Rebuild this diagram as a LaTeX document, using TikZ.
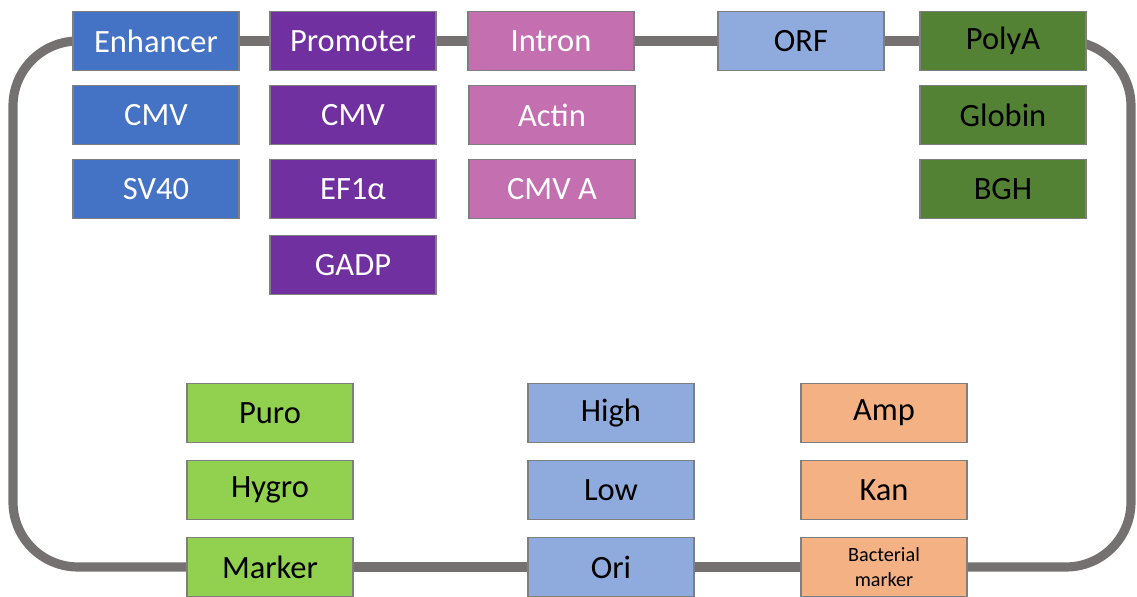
\documentclass[tikz,border=0pt]{standalone}
\usepackage{fontspec}
\setmainfont{Carlito}
\usepackage{xcolor}
\usetikzlibrary{positioning,calc,backgrounds}

\definecolor{enhblue}{HTML}{4472C4}
\definecolor{prompurple}{HTML}{7030A0}
\definecolor{intpink}{HTML}{C46FB0}
\definecolor{orfblue}{HTML}{8FAADC}
\definecolor{polygreen}{HTML}{548235}
\definecolor{markgreen}{HTML}{92D050}
\definecolor{bactorange}{HTML}{F4B183}
\definecolor{loopgray}{HTML}{767171}
\definecolor{edgegray}{HTML}{7F7F7F}

\begin{document}
\begin{tikzpicture}[
        x=0.02cm, y=-0.02cm,
        every node/.style={font=\fontsize{18.5}{20}\selectfont},
        part/.style={draw=edgegray, line width=1.1pt, minimum width=3.32cm,
                     minimum height=1.18cm, inner sep=0pt, align=center},
        enh/.style={part, fill=enhblue, text=white},
        prom/.style={part, fill=prompurple, text=white},
        intr/.style={part, fill=intpink, text=white},
        orfbox/.style={part, fill=orfblue, text=black},
        polyabox/.style={part, fill=polygreen, text=black},
        selbox/.style={part, fill=markgreen, text=black},
        bactbox/.style={part, fill=bactorange, text=black},
        backbone/.style={draw=loopgray, line width=5.2pt}
      ]

        \useasboundingbox (0,0) rectangle (1137,597);

        % Loop corners ---------------------------------------------
        \coordinate (nw) at (13,41);
        \coordinate (ne) at (1131,41);
        \coordinate (se) at (1131,567);
        \coordinate (sw) at (13,567);

        % Top row: expression cassette -----------------------------
        \node[enh]      (enhancer) at (156,41)  {Enhancer};
        \node[prom]     (promoter) at (353,41)  {Promoter};
        \node[intr]     (intron)   at (551,41)  {Intron};
        \node[orfbox]   (orf)      at (801,41)  {ORF};
        \node[polyabox] (polya)    at (1003,41) {PolyA};

        % Options under each part
        \node[enh]      (enhcmv)   at (156,115) {CMV};
        \node[enh]      (sv40)     at (156,189) {SV40};

        \node[prom]     (promcmv)  at (353,115) {CMV};
        \node[prom]     (ef1a)     at (353,189) {EF1α};
        \node[prom]     (gadp)     at (353,265) {GADP};

        \node[intr]     (actin)    at (552,115) {Actin};
        \node[intr]     (cmva)     at (552,189) {CMV A};

        \node[polyabox] (globin)   at (1003,115) {Globin};
        \node[polyabox] (bgh)      at (1003,189) {BGH};

        % Bottom row: selection and replication --------------------
        \node[selbox]   (puro)     at (270,413) {Puro};
        \node[selbox]   (hygro)    at (270,490) {Hygro};
        \node[selbox]   (marker)   at (270,567) {Marker};

        \node[orfbox]   (high)     at (611,413) {High};
        \node[orfbox]   (low)      at (611,490) {Low};
        \node[orfbox]   (ori)      at (611,567) {Ori};

        \node[bactbox]  (amp)      at (884,413) {Amp};
        \node[bactbox]  (kan)      at (884,490) {Kan};
        \node[bactbox, font=\fontsize{11.5}{14}\selectfont]
                        (bacmark)  at (884,567) {Bacterial\\marker};

        % Backbone, behind the boxes -------------------------------
        \begin{scope}[on background layer]
          \draw[backbone] (enhancer.east) -- (promoter.west);
          \draw[backbone] (promoter.east) -- (intron.west);
          \draw[backbone] (intron.east)   -- (orf.west);
          \draw[backbone] (orf.east)      -- (polya.west);
          \draw[backbone] (marker.east)   -- (ori.west);
          \draw[backbone] (ori.east)      -- (bacmark.west);

          \draw[backbone, rounded corners=1.3cm]
            (polya.east) -- (ne) -- (se) -- (bacmark.east);
          \draw[backbone, rounded corners=1.3cm]
            (marker.west) -- (sw) -- (nw) -- (enhancer.west);
        \end{scope}

      \end{tikzpicture}
\end{document}
